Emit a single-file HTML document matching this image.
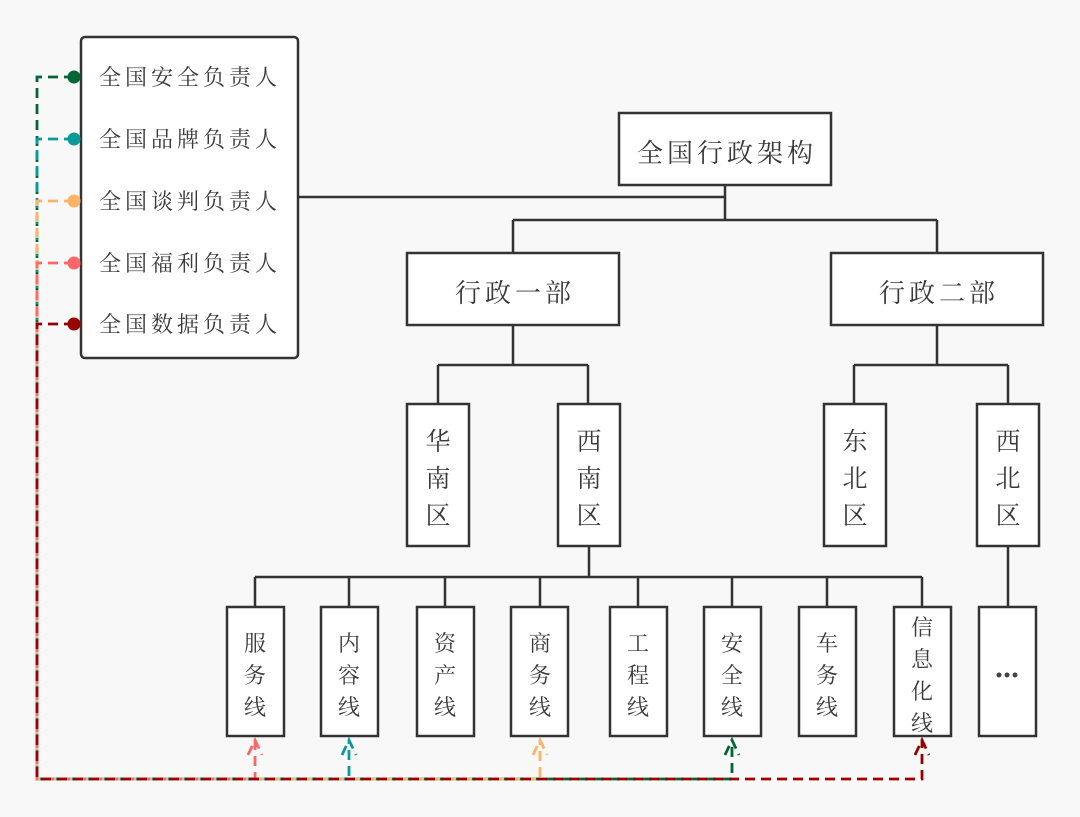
<!DOCTYPE html>
<html><head><meta charset="utf-8"><style>
html,body{margin:0;padding:0;background:#f8f8f8;}
svg{display:block}
text{font-family:"Liberation Serif","Noto Serif CJK SC","Noto Sans CJK SC",serif;fill:#3a3a3a;}
</style></head><body>
<svg width="1080" height="817" viewBox="0 0 1080 817" xmlns="http://www.w3.org/2000/svg">
<rect width="1080" height="817" fill="#f8f8f8"/>
<g fill="none" stroke="#333" stroke-width="2.5">
<path d="M298 197H725M725 185V220M513 220H937M513 220V253M937 220V253"/>
<path d="M513 325V365M438 365H588M438 365V404M588 365V404"/>
<path d="M937 325V365M854 365H1008M854 365V404M1008 365V404"/>
<path d="M589 546V577M255 577H922M255 577V607M349 577V607M445 577V607M540 577V607M638 577V607M732 577V607M827 577V607M922 577V607M1008 546V607"/>
</g>
<g fill="#fff" stroke="#333" stroke-width="2.5">
<rect x="81" y="37" width="217" height="321" rx="4"/>
<rect x="619" y="113" width="212" height="72"/>
<rect x="407" y="253" width="212" height="72"/>
<rect x="831" y="253" width="212" height="72"/>
<rect x="407" y="404" width="62" height="142"/>
<rect x="558" y="404" width="62" height="142"/>
<rect x="824" y="404" width="62" height="142"/>
<rect x="977" y="404" width="62" height="142"/>
<rect x="227" y="607" width="57" height="129"/>
<rect x="321" y="607" width="57" height="129"/>
<rect x="417" y="607" width="57" height="129"/>
<rect x="511" y="607" width="57" height="129"/>
<rect x="610" y="607" width="57" height="129"/>
<rect x="704" y="607" width="57" height="129"/>
<rect x="799" y="607" width="57" height="129"/>
<rect x="894" y="607" width="57" height="129"/>
<rect x="979" y="607" width="57" height="129"/>
</g>
<g font-size="22" letter-spacing="4">
<text x="99" y="85">全国安全负责人</text>
<text x="99" y="147">全国品牌负责人</text>
<text x="99" y="209">全国谈判负责人</text>
<text x="99" y="271">全国福利负责人</text>
<text x="99" y="332">全国数据负责人</text>
</g>
<g font-size="26" letter-spacing="4">
<text x="637" y="162">全国行政架构</text>
<text x="455" y="302">行政一部</text>
<text x="879" y="302">行政二部</text>
</g>
<g font-size="25" text-anchor="middle">
<text x="438" y="450">华</text><text x="438" y="487">南</text><text x="438" y="524">区</text>
<text x="589" y="450">西</text><text x="589" y="487">南</text><text x="589" y="524">区</text>
<text x="855" y="450">东</text><text x="855" y="487">北</text><text x="855" y="524">区</text>
<text x="1008" y="450">西</text><text x="1008" y="487">北</text><text x="1008" y="524">区</text>
</g>
<g font-size="22" text-anchor="middle">
<text x="255" y="651">服</text><text x="255" y="683">务</text><text x="255" y="715">线</text>
<text x="349" y="651">内</text><text x="349" y="683">容</text><text x="349" y="715">线</text>
<text x="445" y="651">资</text><text x="445" y="683">产</text><text x="445" y="715">线</text>
<text x="540" y="651">商</text><text x="540" y="683">务</text><text x="540" y="715">线</text>
<text x="638" y="651">工</text><text x="638" y="683">程</text><text x="638" y="715">线</text>
<text x="732" y="651">安</text><text x="732" y="683">全</text><text x="732" y="715">线</text>
<text x="827" y="651">车</text><text x="827" y="683">务</text><text x="827" y="715">线</text>
<text x="922" y="635">信</text><text x="922" y="667">息</text><text x="922" y="699">化</text><text x="922" y="731">线</text>
</g>
<g fill="#444"><circle cx="999" cy="675" r="2.5"/><circle cx="1007" cy="675" r="2.5"/><circle cx="1015" cy="675" r="2.5"/></g>
<g fill="none" stroke-width="2.8" stroke-dasharray="10,6">
<path stroke="#006633" d="M74 77H37V779H732V740M725 755L732 740L739 755"/>
<path stroke="#0a9a9a" d="M74 139H37V779H349V740M342 755L349 740L356 755"/>
<path stroke="#ffb366" d="M74 201H37V779H540V740M533 755L540 740L547 755"/>
<path stroke="#ff6666" d="M74 263H37V779H255V740M248 755L255 740L262 755"/>
<path stroke="#990000" d="M74 324H37V779H922V740M915 755L922 740L929 755"/>
</g>
<circle cx="74" cy="77" r="6.5" fill="#006633"/>
<circle cx="74" cy="139" r="6.5" fill="#0a9a9a"/>
<circle cx="74" cy="201" r="6.5" fill="#ffb366"/>
<circle cx="74" cy="263" r="6.5" fill="#ff6666"/>
<circle cx="74" cy="324" r="6.5" fill="#990000"/>
</svg>
</body></html>
